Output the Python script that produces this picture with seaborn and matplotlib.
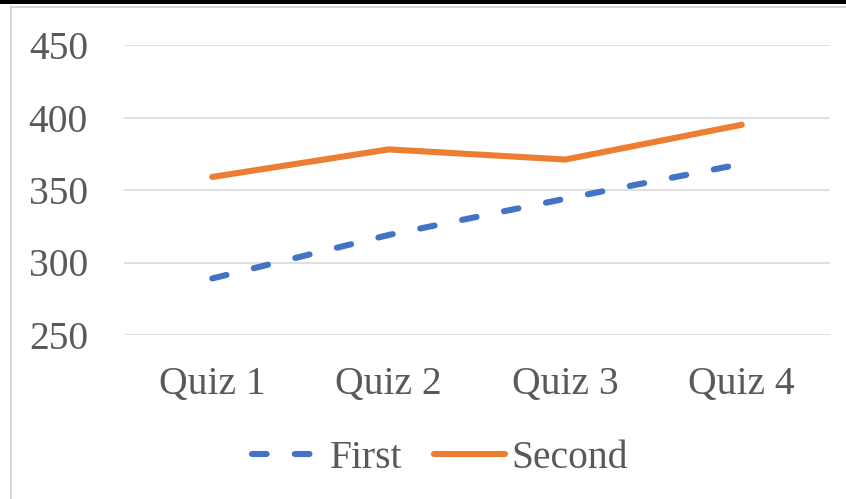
import matplotlib
matplotlib.use("Agg")
import matplotlib.pyplot as plt
from matplotlib.lines import Line2D
from matplotlib.patches import Rectangle
import pandas as pd
import seaborn as sns

quizzes = ["Quiz 1", "Quiz 2", "Quiz 3", "Quiz 4"]
first_scores = [289, 319, 344, 368]
second_scores = [359, 378, 371, 395]
series_names = ["First", "Second"]
y_ticks = [250, 300, 350, 400, 450]

blue = "#4472C4"
orange = "#ED7D31"
text_grey = "#595959"
grid_grey = "#D9D9D9"

df = pd.DataFrame({
    "quiz": quizzes * 2,
    "score": first_scores + second_scores,
    "series": [series_names[0]] * len(quizzes) + [series_names[1]] * len(quizzes),
})

sns.set_style("white")
plt.rcParams["font.family"] = ["Liberation Serif", "DejaVu Serif"]

fig = plt.figure(figsize=(8.46, 4.99), dpi=100)
W, H = 846, 499
ax = fig.add_axes([124 / W, 1 - 335 / H, (830 - 124) / W, (335 - 45) / H])

fs = 28.5
lw = 4.4
sns.lineplot(
    data=df, x="quiz", y="score", hue="series", style="series",
    palette={"First": blue, "Second": orange},
    dashes={"First": (2.4, 4.6), "Second": ""},
    linewidth=lw, legend=False, ax=ax, sort=False,
)
for ln in ax.lines:
    ln.set_dash_capstyle("round")
    ln.set_solid_capstyle("round")
    ln.set_solid_joinstyle("round")

ax.set_xlim(-0.5, len(quizzes) - 0.5)
ax.set_ylim(y_ticks[0], y_ticks[-1])
ax.set_yticks(y_ticks)
ax.set_yticklabels([str(v) for v in y_ticks])
ax.set_xlabel("")
ax.set_ylabel("")
ax.grid(axis="y", color=grid_grey, linewidth=1.2)
ax.set_axisbelow(True)
for s in ax.spines.values():
    s.set_visible(False)
ax.tick_params(axis="y", length=0, pad=26, labelsize=fs, labelcolor=text_grey)
ax.tick_params(axis="x", length=0, pad=22, labelsize=fs, labelcolor=text_grey)

handles = [
    Line2D([], [], color=blue, linewidth=lw, linestyle=(0, (2.4, 4.6)),
           dash_capstyle="round"),
    Line2D([], [], color=orange, linewidth=lw, solid_capstyle="round"),
]
leg = fig.legend(
    handles, series_names, loc="center", bbox_to_anchor=(440 / W, 1 - 458 / H),
    ncol=2, frameon=False, fontsize=fs, handlelength=1.8, handletextpad=0.15,
    columnspacing=0.8, labelcolor=text_grey,
)

# chart frame: dark bar along the top, thin grey border
fig.add_artist(Rectangle((0, 1 - 4 / H), 1, 4 / H, transform=fig.transFigure,
                         color="black", lw=0))
fig.add_artist(Line2D([11 / W, 11 / W], [0, 1 - 7 / H], transform=fig.transFigure,
                      color="#D0D0D0", lw=1.2))
fig.add_artist(Line2D([11 / W, 1], [1 - 7 / H, 1 - 7 / H], transform=fig.transFigure,
                      color="#D0D0D0", lw=1.2))

fig.savefig("out.png", dpi=100)
